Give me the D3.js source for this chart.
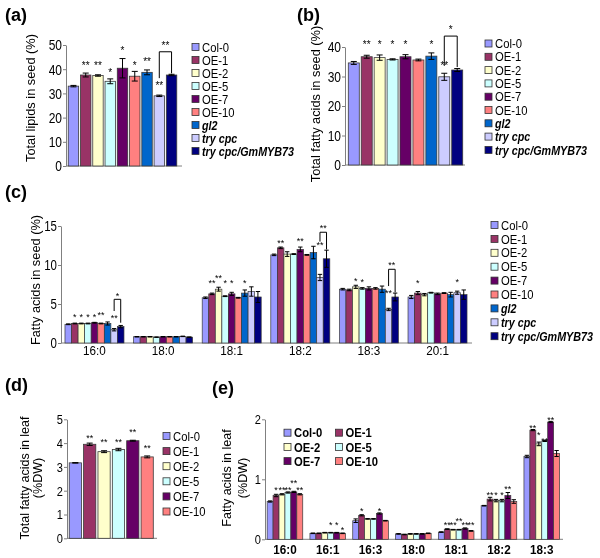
<!DOCTYPE html>
<html><head><meta charset="utf-8">
<script src="https://cdn.jsdelivr.net/npm/d3@7"></script>
<style>body{margin:0;background:#fff}svg{display:block;will-change:transform}</style>
</head><body>
<script>
const FONT = '"Liberation Sans",Arial,sans-serif';

// ---------- shared series ----------
const series9 = ["Col-0","OE-1","OE-2","OE-5","OE-7","OE-10","gl2","try cpc","try cpc/GmMYB73"];
const colors9 = ["#9999ff","#993366","#ffffcc","#ccffff","#660066","#ff8080","#0066cc","#ccccff","#000080"];
const italic9 = [false,false,false,false,false,false,true,true,true];
const series6 = ["Col-0","OE-1","OE-2","OE-5","OE-7","OE-10"];

// ---------- (a) total lipids in seed ----------
const valuesA = [33.0,37.6,37.4,35.0,40.4,37.1,38.7,29.0,37.6];
const errA    = [0.3,0.8,0.3,1.0,4.0,2.0,1.0,0.3,0.3];
const sigA    = ["","**","**","*","*","*","**","**",""];
const sigLevA = [0,42.4,42.4,39.7,48.6,42.4,44.1,34.2,0];
const bracketA = {from:7,to:8,top:47.2,left:36.3,right:38.3,label:"**",labelAt:50.8};
const ticksA = [0,10,20,30,40,50];

// ---------- (b) total fatty acids in seed ----------
const valuesB = [34.6,36.7,36.4,35.8,36.7,35.6,36.9,29.9,32.2];
const errB    = [0.5,0.5,0.9,0.2,0.7,0.3,1.1,1.2,0.5];
const sigB    = ["","**","*","*","*","","*","**",""];
const sigLevB = [0,41.5,41.5,41.5,41.5,0,41.5,34.6,0];
const bracketB = {from:7,to:8,top:43.7,left:33.6,right:33.2,label:"*",labelAt:46.5};
const ticksB = [0,10,20,30,40];

// ---------- (c) fatty acids in seed ----------
const groupsC = ["16:0","18:0","18:1","18:2","18:3","20:1"];
const c160 = [2.4,2.5,2.5,2.5,2.6,2.5,2.5,1.7,2.1];
const c180 = [0.8,0.8,0.8,0.75,0.8,0.8,0.8,0.85,0.75];
const c181 = [5.8,6.3,6.9,6.0,6.3,5.8,6.4,6.6,5.9];
const c182 = [11.3,12.2,11.4,11.4,12.0,11.3,11.6,8.4,10.8];
const c183 = [6.9,6.8,7.2,7.0,7.0,7.0,6.9,4.3,5.9];
const c201 = [5.9,6.4,6.2,6.45,6.3,6.4,6.2,6.45,6.2];
const e160 = [0.05,0.05,0.05,0.05,0.05,0.05,0.2,0.15,0.15];
const e180 = [0.03,0.03,0.03,0.03,0.03,0.03,0.03,0.03,0.03];
const e181 = [0.1,0.1,0.25,0.05,0.2,0.05,0.4,0.6,0.7];
const e182 = [0.1,0.1,0.3,0.05,0.3,0.05,0.8,0.4,1.1];
const e183 = [0.1,0.1,0.2,0.1,0.2,0.1,0.4,0.15,0.5];
const e201 = [0.2,0.2,0.15,0.05,0.1,0.05,0.3,0.2,0.6];
// stars: [group, series, label, level]
const sigC = [
  ["16:0",1,"*",3.6],["16:0",2,"*",3.6],["16:0",3,"*",3.6],["16:0",4,"*",3.6],["16:0",5,"**",3.8],["16:0",7,"**",3.5],
  ["18:1",1,"**",7.9],["18:1",2,"**",8.6],["18:1",3,"*",7.9],["18:1",4,"*",7.9],["18:1",6,"*",7.9],
  ["18:2",1,"**",13.1],["18:2",4,"**",13.4],["18:2",7,"**",12.8],
  ["18:3",2,"*",8.2],["18:3",3,"*",8.1],["18:3",7,"**",6.7],
  ["20:1",1,"*",8.0],["20:1",7,"*",8.1]
];
const bracketsC = [
  {group:"16:0",from:7,to:8,top:5.6,left:4.1,right:2.6,label:"*",labelAt:6.3},
  {group:"18:2",from:7,to:8,top:14.2,left:13.0,right:12.0,label:"**",labelAt:15.0},
  {group:"18:3",from:7,to:8,top:9.45,left:7.3,right:6.5,label:"**",labelAt:10.2}
];
const ticksC = [0,5,10,15];

// ---------- (d) total fatty acids in leaf ----------
const valuesD = [3.17,3.95,3.64,3.73,4.10,3.42];
const errD    = [0.01,0.05,0.04,0.05,0.02,0.04];
const sigD    = ["","**","**","**","**","**"];
const sigLevD = [0,4.3,4.13,4.13,4.55,3.88];
const ticksD = [0,1,2,3,4,5];

// ---------- (e) fatty acids in leaf ----------
const groupsE = ["16:0","16:1","16:3","18:0","18:1","18:2","18:3"];
const l160 = [0.63,0.73,0.75,0.78,0.79,0.75];
const l161 = [0.10,0.10,0.11,0.11,0.11,0.10];
const l163 = [0.31,0.40,0.34,0.34,0.43,0.31];
const l180 = [0.09,0.08,0.09,0.09,0.09,0.10];
const l181 = [0.12,0.17,0.16,0.16,0.18,0.14];
const l182 = [0.56,0.67,0.645,0.645,0.73,0.63];
const l183 = [1.38,1.82,1.59,1.64,1.955,1.43];
const le160 = [0.01,0.02,0.01,0.01,0.01,0.01];
const le161 = [0.005,0.005,0.005,0.005,0.005,0.005];
const le163 = [0.03,0.01,0.005,0.005,0.01,0.005];
const le180 = [0.005,0.005,0.005,0.005,0.005,0.005];
const le181 = [0.005,0.005,0.005,0.005,0.01,0.005];
const le182 = [0.005,0.03,0.02,0.02,0.05,0.03];
const le183 = [0.02,0.01,0.03,0.01,0.01,0.05];
const sigE = [
  ["16:0",1,"*",0.855],["16:0",2,"**",0.855],["16:0",3,"**",0.855],["16:0",4,"**",0.98],["16:0",5,"**",0.855],
  ["16:1",3,"*",0.27],["16:1",4,"*",0.27],["16:1",5,"*",0.19],
  ["16:3",1,"*",0.5],["16:3",4,"*",0.5],
  ["18:1",1,"**",0.27],["18:1",2,"**",0.27],["18:1",3,"**",0.34],["18:1",4,"**",0.27],["18:1",5,"**",0.27],
  ["18:2",1,"**",0.78],["18:2",2,"*",0.77],["18:2",3,"*",0.77],["18:2",4,"**",0.87],
  ["18:3",1,"**",1.89],["18:3",2,"*",1.78],["18:3",3,"**",1.68],["18:3",4,"**",2.02]
];
const ticksE = [0,1,2];

// =====================================================
const svg = d3.select("body").append("svg").attr("width",600).attr("height",558)
  .style("font-family",FONT);

const STROKE = "#3a3a3a";
const AXIS = "#808080";

// condensed text helper
function ctext(parent,x,y,t,fs,sx,anchor,opts){
  opts = opts||{};
  const g = parent.append("g").attr("transform",`translate(${x},${y}) scale(${sx},1)`);
  g.append("text").attr("x",0).attr("y",0).attr("dy",opts.dy||null).attr("text-anchor",anchor||"start")
    .attr("font-family",FONT).attr("font-size",fs)
    .attr("font-weight",opts.bold?"bold":"normal").attr("font-style",opts.italic?"italic":"normal").text(t);
  return g;
}

function starY(y, lvl, fs){ return y(lvl) + fs*0.56; }

function yAxis(g, y, x0, ticks, fs, sx){
  const ax = g.append("g").attr("transform",`translate(${x0},0)`)
    .call(d3.axisLeft(y).tickValues(ticks).tickSize(3).tickSizeOuter(0).tickPadding(1).tickFormat(d3.format("d")));
  ax.select(".domain").attr("stroke",AXIS);
  ax.selectAll(".tick line").attr("stroke",AXIS);
  ax.selectAll(".tick text").each(function(){
    const t = d3.select(this), xx = +t.attr("x");
    t.attr("x",0).attr("transform",`translate(${xx},0) scale(${sx},1)`)
     .attr("font-family",FONT).attr("font-size",fs).attr("fill","#000");
  });
}

function panelLabel(t,x,yb){
  svg.append("text").attr("x",x).attr("y",yb).text(t)
    .attr("font-family",FONT).attr("font-weight","bold").attr("font-size",18);
}

function yLabel(lines, xs, yc, fs){
  lines.forEach((t,i)=>{
    svg.append("text").attr("transform",`translate(${xs[i]},${yc}) rotate(-90)`)
      .attr("text-anchor","middle").attr("dy","0.35em").attr("font-family",FONT)
      .attr("font-size",fs).text(t);
  });
}

function errBar(g,cx,yTop,yBot,hw){
  g.append("path").attr("d",`M${cx},${yBot}V${yTop}M${cx-hw},${yTop}H${cx+hw}M${cx-hw},${yBot}H${cx+hw}`)
    .attr("stroke","#000").attr("stroke-width",1).attr("fill","none");
}

function legend(items, colors, italics, x, y0, dy, fs, bold, cols){
  const g = svg.append("g");
  items.forEach((t,i)=>{
    const col = cols ? i%cols.n : 0, row = cols ? Math.floor(i/cols.n) : i;
    const xx = x + col*(cols?cols.dx:0), yy = y0 + row*dy;
    g.append("rect").attr("x",xx).attr("y",yy-3.5).attr("width",7).attr("height",7)
      .attr("fill",colors[i]).attr("stroke","#333").attr("stroke-width",0.8);
    const it = italics && italics[i];
    ctext(g,xx+10,yy,t,fs,it?0.84:0.88,"start",{dy:"0.36em",italic:it,bold:bold||it});
  });
}

function simplePanel(o){
  const x = d3.scaleBand().domain(d3.range(o.values.length)).range(o.xr).paddingInner(o.pi).paddingOuter(o.po);
  const y = d3.scaleLinear().domain(o.dom).range(o.yr);
  const g = svg.append("g");
  g.append("line").attr("x1",o.ax).attr("x2",o.axEnd).attr("y1",y(0)).attr("y2",y(0)).attr("stroke",AXIS);
  g.selectAll("rect.bar").data(o.values).join("rect").attr("class","bar")
    .attr("x",(d,i)=>x(i)).attr("width",x.bandwidth()).attr("y",d=>y(d)).attr("height",d=>y(0)-y(d))
    .attr("fill",(d,i)=>o.colors[i]).attr("stroke",STROKE).attr("stroke-width",0.8);
  o.values.forEach((v,i)=>{
    const cx = x(i)+x.bandwidth()/2;
    errBar(g,cx,y(v+o.err[i]),y(v-o.err[i]),3);
    if(o.sig[i]) g.append("text").attr("x",cx).attr("y",starY(y,o.sigLev[i],o.sfs)).attr("text-anchor","middle")
      .attr("font-family",FONT).attr("font-size",o.sfs).attr("fill","#000").text(o.sig[i]);
  });
  if(o.br){
    const b=o.br, x1=x(b.from)+x.bandwidth()/2, x2=x(b.to)+x.bandwidth()/2;
    g.append("path").attr("d",`M${x1},${y(b.left)}V${y(b.top)}H${x2}V${y(b.right)}`).attr("fill","none").attr("stroke","#000");
    g.append("text").attr("x",(x1+x2)/2).attr("y",starY(y,b.labelAt,o.sfs)).attr("text-anchor","middle")
      .attr("font-family",FONT).attr("font-size",o.sfs).text(b.label);
  }
  yAxis(g,y,o.ax,o.ticks,o.tfs,o.tsx);
}

function groupPanel(o){
  const x0 = d3.scaleBand().domain(o.groups).range(o.xr).paddingInner(o.pi).paddingOuter(o.po);
  const x1 = d3.scaleBand().domain(d3.range(o.nS)).range([0,x0.bandwidth()]);
  const y = d3.scaleLinear().domain(o.dom).range(o.yr);
  const g = svg.append("g");
  g.append("line").attr("x1",o.ax).attr("x2",o.axEnd).attr("y1",y(0)).attr("y2",y(0)).attr("stroke",AXIS);
  o.groups.forEach((gr,gi)=>{
    const vals=o.vals[gi], errs=o.errs[gi];
    g.selectAll(null).data(vals).join("rect")
      .attr("x",(d,i)=>x0(gr)+x1(i)).attr("width",x1.bandwidth()).attr("y",d=>y(d)).attr("height",d=>y(0)-y(d))
      .attr("fill",(d,i)=>o.colors[i]).attr("stroke",STROKE).attr("stroke-width",0.7);
    vals.forEach((v,i)=>{
      const cx=x0(gr)+x1(i)+x1.bandwidth()/2;
      errBar(g,cx,y(v+errs[i]),y(v-errs[i]),2.2);
    });
    ctext(g,x0(gr)+x0.bandwidth()/2,o.labY,gr,o.gfs,0.9,"middle",{bold:o.gbold});
  });
  const cx = (gr,i)=>x0(gr)+x1(i)+x1.bandwidth()/2;
  o.sig.forEach(s=>{
    g.append("text").attr("x",cx(s[0],s[1])).attr("y",starY(y,s[3],o.sfs)).attr("text-anchor","middle")
      .attr("font-family",FONT).attr("font-size",o.sfs).text(s[2]);
  });
  (o.br||[]).forEach(b=>{
    const xa=cx(b.group,b.from), xb=cx(b.group,b.to);
    g.append("path").attr("d",`M${xa},${y(b.left)}V${y(b.top)}H${xb}V${y(b.right)}`).attr("fill","none").attr("stroke","#000");
    g.append("text").attr("x",(xa+xb)/2).attr("y",starY(y,b.labelAt,o.sfs)).attr("text-anchor","middle")
      .attr("font-family",FONT).attr("font-size",o.sfs).text(b.label);
  });
  yAxis(g,y,o.ax,o.ticks,o.tfs,o.tsx);
}

// ---- (a)
panelLabel("(a)",5,21);
simplePanel({values:valuesA,err:errA,sig:sigA,sigLev:sigLevA,br:bracketA,colors:colors9,
  xr:[67,178],pi:0.15,po:0.1,dom:[0,50],yr:[166,45],ax:66,axEnd:182,ticks:ticksA,tfs:15,tsx:0.8,sfs:10});
yLabel(["Total lipids in seed (%)"],[31],98,12.8);
legend(series9,colors9,italic9,192,47,13,12.8,false);

// ---- (b)
panelLabel("(b)",297,21);
simplePanel({values:valuesB,err:errB,sig:sigB,sigLev:sigLevB,br:bracketB,colors:colors9,
  xr:[347,464],pi:0.15,po:0.1,dom:[0,40],yr:[165,47],ax:345,axEnd:465,ticks:ticksB,tfs:15,tsx:0.8,sfs:10});
yLabel(["Total fatty acids in seed (%)"],[316],104,12.8);
legend(series9,colors9,italic9,485,43.5,13.3,12.8,false);

// ---- (c)
panelLabel("(c)",5,198);
groupPanel({groups:groupsC,nS:9,vals:[c160,c180,c181,c182,c183,c201],errs:[e160,e180,e181,e182,e183,e201],
  colors:colors9,xr:[61,471],pi:0.14,po:0.058,dom:[0,15],yr:[343,226],ax:61,axEnd:472,ticks:ticksC,tfs:14,tsx:0.82,
  sfs:9,sig:sigC,br:bracketsC,labY:355,gfs:13,gbold:false});
yLabel(["Fatty acids in seed (%)"],[36],280,12.8);
legend(series9,colors9,italic9,491,225,13.9,12.8,false);

// ---- (d)
panelLabel("(d)",5,391);
simplePanel({values:valuesD,err:errD,sig:sigD,sigLev:sigLevD,colors:colors9.slice(0,6),
  xr:[68.5,154],pi:0.15,po:0.05,dom:[0,5],yr:[538.3,419.3],ax:67,axEnd:157,ticks:ticksD,tfs:13.5,tsx:0.82,sfs:9});
yLabel(["Total fatty acids in leaf","(%DW)"],[25,38],478,12.5);
legend(series6,colors9.slice(0,6),null,163,436,15.1,12.8,false);

// ---- (e)
panelLabel("(e)",212,394);
groupPanel({groups:groupsE,nS:6,vals:[l160,l161,l163,l180,l181,l182,l183],errs:[le160,le161,le163,le180,le181,le182,le183],
  colors:colors9.slice(0,6),xr:[265,561.7],pi:0.168,po:0.05,dom:[0,2],yr:[539.3,419.3],ax:265,axEnd:563,ticks:ticksE,tfs:13.5,tsx:0.82,
  sfs:9,sig:sigE,labY:554,gfs:13,gbold:true});
yLabel(["Fatty acids in leaf","(%DW)"],[227,243],478,12.5);
legend(series6,colors9.slice(0,6),null,284,432.7,14.2,12.8,true,{n:2,dx:51.5});
</script>
</body></html>
